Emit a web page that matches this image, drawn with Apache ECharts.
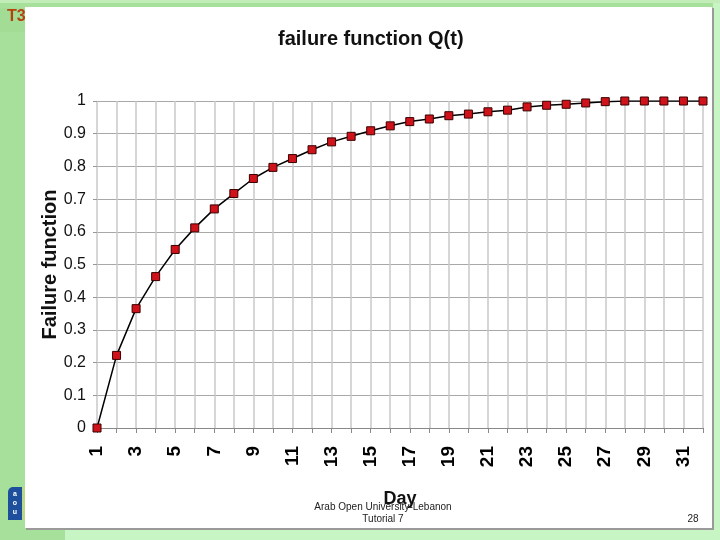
<!DOCTYPE html>
<html>
<head>
<meta charset="utf-8">
<script src="https://cdn.jsdelivr.net/npm/echarts@6/dist/echarts.min.js"></script>
<style>
html,body{margin:0;padding:0;background:#a6e09a;}
#chart{width:720px;height:540px;}
</style>
</head>
<body>
<div id="chart"></div>
<script>
// ---- data ----
const days = ['1','2','3','4','5','6','7','8','9','10','11','12','13','14','15','16',
              '17','18','19','20','21','22','23','24','25','26','27','28','29','30','31','32'];
const failureQ = [0, 0.222, 0.365, 0.463, 0.546, 0.612, 0.670, 0.717, 0.763, 0.797, 0.824,
                  0.851, 0.875, 0.892, 0.909, 0.924, 0.937, 0.945, 0.955, 0.960, 0.967,
                  0.972, 0.982, 0.987, 0.990, 0.994, 0.998, 1.0, 1.0, 1.0, 1.0, 1.0];
const yTickLabels = ['0','0.1','0.2','0.3','0.4','0.5','0.6','0.7','0.8','0.9','1'];
const titleText = 'failure function Q(t)';
const yAxisName = 'Failure function';
const xAxisName = 'Day';
const footerLines = ['Arab Open University-Lebanon', 'Tutorial 7'];
const pageNumber = '28';
const slideTag = 'T3';

const chart = echarts.init(document.getElementById('chart'), null, {renderer: 'canvas'});
const sans = 'Liberation Sans, Arial, sans-serif';

chart.setOption({
  backgroundColor: '#a6e09a',
  animation: false,
  graphic: [
    // slide decorations
    {type: 'rect', z: -10, shape: {x: 0, y: 0, width: 720, height: 3}, style: {fill: '#c2edb8'}},
    {type: 'rect', z: -10, shape: {x: 0, y: 8, width: 25, height: 24}, style: {fill: '#a2dc95'}},
    {type: 'rect', z: -10, shape: {x: 713, y: 3, width: 7, height: 537}, style: {fill: '#c8f5c4'}},
    {type: 'rect', z: -10, shape: {x: 65, y: 529, width: 655, height: 11}, style: {fill: '#c8f5c4'}},
    {type: 'text', z: -9, style: {x: 7, y: 9, text: slideTag, fill: '#b3420f', font: 'bold 16px ' + sans}},
    {type: 'rect', z: -8, shape: {x: 26, y: 8, width: 688, height: 522}, style: {fill: '#9a9a9a'}},
    {type: 'rect', z: -7, shape: {x: 25, y: 7, width: 687, height: 521}, style: {fill: '#ffffff'}},
    // logo
    {type: 'rect', z: -6, shape: {x: 8, y: 487, width: 14, height: 33, r: [5, 0, 0, 0]}, style: {fill: '#1d4f9c'}},
    {type: 'rect', z: -6, shape: {x: 22, y: 487, width: 3, height: 33}, style: {fill: '#b9d88a'}},
    {type: 'text', z: -5, style: {x: 15, y: 490, text: 'a\no\nu', fill: '#ffffff', font: 'bold 7px ' + sans, lineHeight: 9, align: 'center'}},
    // footer
    {type: 'text', z: 20, style: {x: 383, y: 502, text: footerLines[0], fill: '#222', font: '10px ' + sans, align: 'center', verticalAlign: 'top'}},
    {type: 'text', z: 20, style: {x: 383, y: 514, text: footerLines[1], fill: '#222', font: '10px ' + sans, align: 'center', verticalAlign: 'top'}},
    {type: 'text', z: 20, style: {x: 693, y: 514, text: pageNumber, fill: '#222', font: '10px ' + sans, align: 'center', verticalAlign: 'top'}}
  ],
  title: {
    text: titleText,
    left: 278,
    top: 29,
    padding: 0,
    textStyle: {fontFamily: sans, fontWeight: 'bold', fontSize: 20, color: '#111'}
  },
  grid: {left: 97, right: 17, top: 101, bottom: 112, containLabel: false},
  xAxis: {
    type: 'category',
    data: days,
    boundaryGap: false,
    name: xAxisName,
    nameLocation: 'middle',
    nameGap: 62,
    nameMoveOverlap: false,
    nameTextStyle: {fontFamily: sans, fontWeight: 'bold', fontSize: 18, color: '#111'},
    axisLine: {lineStyle: {color: '#888', width: 1}},
    axisTick: {show: true, interval: 0, length: 5, lineStyle: {color: '#888'}},
    axisLabel: {interval: 1, rotate: 90, margin: 18, fontFamily: sans, fontWeight: 'bold', fontSize: 19, color: '#000'},
    splitLine: {show: true, interval: 0, lineStyle: {color: '#c8c8c8', width: 1.5}}
  },
  yAxis: {
    type: 'value',
    min: 0,
    max: 1,
    interval: 0.1,
    name: yAxisName,
    nameLocation: 'middle',
    nameGap: 37,
    nameMoveOverlap: false,
    nameRotate: 90,
    nameTextStyle: {fontFamily: sans, fontWeight: 'bold', fontSize: 20, color: '#111'},
    axisLine: {show: false},
    axisTick: {show: true, length: 4, lineStyle: {color: '#999'}},
    axisLabel: {
      margin: 11, fontFamily: sans, fontSize: 16, color: '#111',
      formatter: function (v) { return yTickLabels[Math.round(v * 10)]; }
    },
    splitLine: {show: true, lineStyle: {color: '#a8a8a8', width: 1}}
  },
  series: [{
    type: 'line',
    data: failureQ,
    symbol: 'rect',
    symbolSize: 8,
    showAllSymbol: true,
    lineStyle: {color: '#000', width: 1.5},
    itemStyle: {color: '#d0121b', borderColor: '#3a0000', borderWidth: 1},
    z: 5
  }]
});
</script>
</body>
</html>
